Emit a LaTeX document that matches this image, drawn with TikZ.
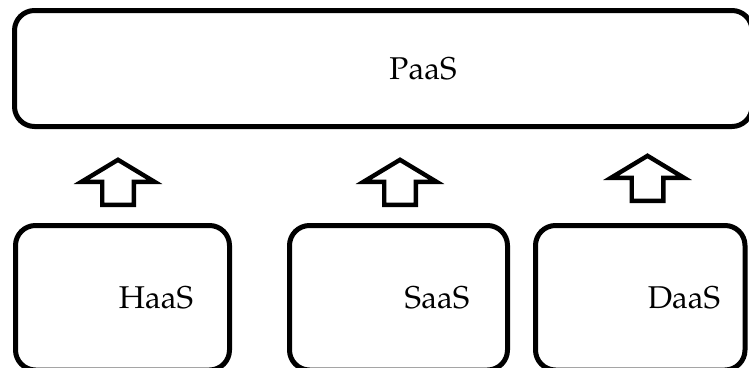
\documentclass[tikz,border=0pt]{standalone}
\usepackage[T1]{fontenc}
\usepackage{mathpazo}
\tikzset{
  box/.style={draw=black, line width=5pt, rounded corners=20pt, inner sep=0pt, fill=none},
  lbl/.style={anchor=base, inner sep=0pt, font=\fontsize{31.5}{36}\selectfont},
  blockarrow/.pic={\draw[line width=4.4pt, miter limit=10, fill=white]
      (0,2.8) -- (36.5,24.8) -- (15.8,24.8) -- (15.8,47.8) -- (-15.8,47.8) -- (-15.8,24.8) -- (-36.5,24.8) -- cycle;}
}
\begin{document}
\begin{tikzpicture}[x=1pt, y=-1pt]
  \useasboundingbox (0,0) rectangle (749,367);
  \fill[white] (0,0) rectangle (749,367);
  \clip (0,0) rectangle (749,367);
  \node[box, minimum width=737.5pt, minimum height=116pt] (paas) at (383.25,68.5) {};
  \node[box, minimum width=214pt, minimum height=144.5pt] (haas) at (122.5,297.75) {};
  \node[box, minimum width=218pt, minimum height=144.5pt] (saas) at (398.5,297.75) {};
  \node[box, minimum width=209.5pt, minimum height=144.5pt] (daas) at (640.25,297.75) {};
  \node[lbl] (tpaas) at (423,79) {PaaS};
  \node[lbl] (thaas) at (156,308) {HaaS};
  \node[lbl] (tsaas) at (437,308) {SaaS};
  \node[lbl] (tdaas) at (684,308) {DaaS};
  \pic (a1) at (118,157) {blockarrow};
  \pic (a2) at (400,157) {blockarrow};
  \pic (a3) at (647.5,153) {blockarrow};
\end{tikzpicture}
\end{document}
